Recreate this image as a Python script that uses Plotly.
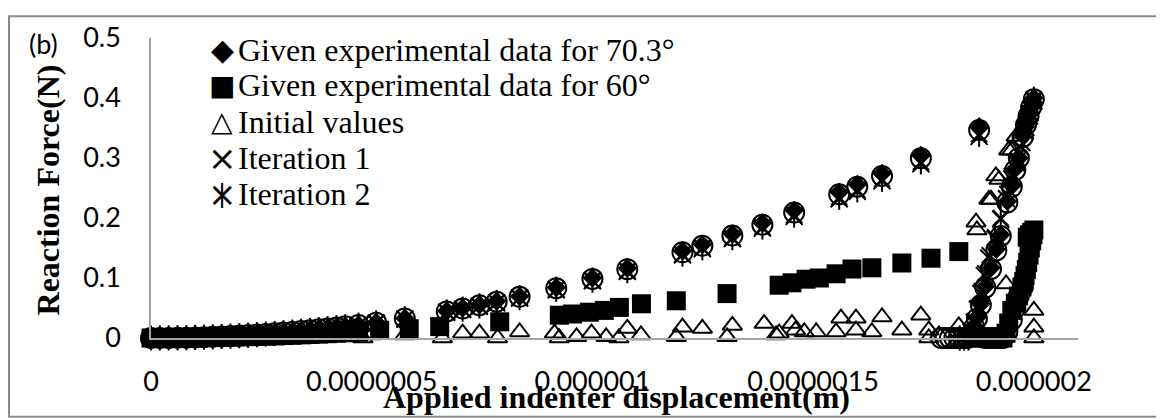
import plotly.graph_objects as go

# ---------------- data (displacement in m, force in N) ----------------
disp_exp_703 = [0.0, 0.02e-6, 0.04e-6, 0.06e-6, 0.08e-6, 0.10e-6, 0.12e-6, 0.14e-6, 0.16e-6, 0.18e-6,
                0.20e-6, 0.22e-6, 0.24e-6, 0.26e-6, 0.28e-6, 0.30e-6, 0.32e-6, 0.34e-6, 0.36e-6, 0.38e-6,
                0.40e-6, 0.42e-6, 0.44e-6, 0.47e-6, 0.51e-6, 0.575e-6, 0.67e-6, 0.706e-6, 0.744e-6, 0.783e-6,
                0.835e-6, 0.918e-6, 1.0e-6, 1.079e-6, 1.204e-6, 1.249e-6, 1.317e-6, 1.385e-6, 1.457e-6, 1.559e-6,
                1.6e-6, 1.656e-6, 1.744e-6, 1.876e-6, 1.975e-6, 1.981e-6, 1.986e-6, 1.991e-6, 1.995e-6, 1.998e-6,
                2.0e-6, 1.996e-6, 1.992e-6, 1.987e-6, 1.982e-6, 1.976e-6, 1.966e-6, 1.958e-6, 1.95e-6, 1.94e-6,
                1.925e-6, 1.915e-6, 1.903e-6, 1.89e-6, 1.88e-6, 1.871e-6, 1.865e-6, 1.86e-6, 1.855e-6]
force_exp_703 = [0.0, 0.0, 0.0002, 0.0004, 0.0006, 0.0010, 0.0014, 0.0020, 0.0026, 0.0032,
                 0.0040, 0.0048, 0.0058, 0.0068, 0.0078, 0.0090, 0.0102, 0.0116, 0.0130, 0.0144,
                 0.0160, 0.0176, 0.0194, 0.0221, 0.0260, 0.0331, 0.0449, 0.0498, 0.0554, 0.0613,
                 0.0697, 0.0843, 0.1000, 0.1164, 0.1450, 0.1560, 0.1734, 0.1918, 0.2123, 0.2431,
                 0.2560, 0.2742, 0.3042, 0.3519, 0.340, 0.352, 0.364, 0.375, 0.385, 0.393,
                 0.400, 0.392, 0.383, 0.373, 0.360, 0.345, 0.300, 0.282, 0.254, 0.228,
                 0.172, 0.148, 0.117, 0.086, 0.057, 0.034, 0.020, 0.008, 0.0]

disp_exp_60 = [0.0, 0.02e-6, 0.04e-6, 0.06e-6, 0.08e-6, 0.10e-6, 0.12e-6, 0.14e-6, 0.16e-6, 0.18e-6,
               0.20e-6, 0.22e-6, 0.24e-6, 0.26e-6, 0.28e-6, 0.30e-6, 0.32e-6, 0.34e-6, 0.36e-6, 0.38e-6,
               0.40e-6, 0.42e-6, 0.44e-6, 0.47e-6, 0.518e-6, 0.585e-6, 0.654e-6, 0.79e-6, 0.925e-6, 0.955e-6,
               0.993e-6, 1.027e-6, 1.061e-6, 1.111e-6, 1.19e-6, 1.305e-6, 1.423e-6, 1.452e-6, 1.484e-6, 1.514e-6,
               1.552e-6, 1.588e-6, 1.633e-6, 1.701e-6, 1.767e-6, 1.83e-6, 1.985e-6, 1.99e-6, 1.995e-6, 2.0e-6,
               1.998e-6, 1.995e-6, 1.992e-6, 1.989e-6, 1.986e-6, 1.983e-6, 1.98e-6, 1.977e-6, 1.973e-6, 1.965e-6,
               1.958e-6, 1.95e-6, 1.943e-6, 1.937e-6, 1.93e-6, 1.915e-6, 1.9e-6, 1.885e-6, 1.87e-6]
force_exp_60 = [0.0, 0.0, 0.0001, 0.0002, 0.0003, 0.0005, 0.0006, 0.0009, 0.0012, 0.0015,
                0.0018, 0.0022, 0.0026, 0.0030, 0.0035, 0.0041, 0.0046, 0.0052, 0.0058, 0.0065,
                0.0072, 0.0079, 0.0087, 0.0099, 0.0130, 0.0155, 0.0190, 0.0270, 0.0380, 0.0400,
                0.0430, 0.0460, 0.0510, 0.0570, 0.0620, 0.0740, 0.0880, 0.0920, 0.0980, 0.1000,
                0.1070, 0.1150, 0.1170, 0.1250, 0.1330, 0.1440, 0.168, 0.172, 0.176, 0.180,
                0.172, 0.162, 0.150, 0.138, 0.126, 0.114, 0.104, 0.094, 0.085, 0.070,
                0.058, 0.046, 0.025, 0.008, 0.0, 0.0, 0.0, 0.0, 0.0]

disp_initial = [0.0, 0.05e-6, 0.10e-6, 0.15e-6, 0.20e-6, 0.25e-6, 0.30e-6, 0.35e-6, 0.40e-6, 0.45e-6,
                0.48e-6, 0.50e-6, 0.575e-6, 0.66e-6, 0.706e-6, 0.744e-6, 0.785e-6, 0.835e-6, 0.914e-6, 0.925e-6,
                0.964e-6, 0.998e-6, 1.031e-6, 1.06e-6, 1.079e-6, 1.11e-6, 1.19e-6, 1.204e-6, 1.249e-6, 1.305e-6,
                1.317e-6, 1.389e-6, 1.416e-6, 1.423e-6, 1.452e-6, 1.46e-6, 1.48e-6, 1.507e-6, 1.552e-6, 1.563e-6,
                1.597e-6, 1.597e-6, 1.633e-6, 1.656e-6, 1.701e-6, 1.744e-6, 1.762e-6, 1.762e-6, 1.785e-6, 1.83e-6,
                1.869e-6, 1.871e-6, 1.898e-6, 1.903e-6, 1.914e-6, 1.921e-6, 1.943e-6, 1.95e-6, 1.96e-6, 1.973e-6,
                1.937e-6, 2.0e-6, 2.0e-6, 2.0e-6]
force_initial = [0.0, 0.0, 0.001, 0.0, 0.002, 0.001, 0.003, 0.001, 0.004, 0.002,
                 0.0, 0.005, 0.005, 0.0, 0.008, 0.008, 0.0, 0.010, 0.008, 0.0,
                 0.002, 0.008, 0.002, 0.0, 0.016, 0.005, 0.002, 0.018, 0.016, 0.002,
                 0.021, 0.024, 0.005, 0.008, 0.024, 0.013, 0.010, 0.010, 0.010, 0.033,
                 0.033, 0.013, 0.010, 0.035, 0.013, 0.038, 0.013, 0.0, 0.005, 0.020,
                 0.193, 0.180, 0.231, 0.231, 0.270, 0.264, 0.313, 0.313, 0.336, 0.341,
                 0.090, 0.046, 0.018, 0.0]

disp_iter1 = [0.0, 0.02e-6, 0.04e-6, 0.06e-6, 0.08e-6, 0.10e-6, 0.12e-6, 0.14e-6, 0.16e-6, 0.18e-6,
              0.20e-6, 0.22e-6, 0.24e-6, 0.26e-6, 0.28e-6, 0.30e-6, 0.32e-6, 0.34e-6, 0.36e-6, 0.38e-6,
              0.40e-6, 0.42e-6, 0.44e-6, 0.47e-6, 0.51e-6, 0.575e-6, 0.67e-6, 0.706e-6, 0.744e-6, 0.783e-6,
              0.835e-6, 0.918e-6, 1.0e-6, 1.079e-6, 1.204e-6, 1.249e-6, 1.317e-6, 1.385e-6, 1.457e-6, 1.559e-6,
              1.6e-6, 1.656e-6, 1.744e-6, 1.876e-6, 2.0e-6, 1.99e-6, 1.98e-6, 1.97e-6, 1.96e-6, 1.95e-6,
              1.938e-6, 1.925e-6, 1.912e-6, 1.898e-6, 1.888e-6, 1.88e-6, 1.872e-6, 1.865e-6, 1.858e-6, 1.85e-6,
              1.84e-6, 1.83e-6, 1.82e-6]
force_iter1 = [0.0, 0.0, 0.0002, 0.0004, 0.0006, 0.0010, 0.0013, 0.0019, 0.0025, 0.0031,
               0.0038, 0.0046, 0.0055, 0.0065, 0.0074, 0.0086, 0.0097, 0.0111, 0.0124, 0.0138,
               0.0153, 0.0168, 0.0185, 0.0211, 0.0248, 0.0316, 0.0429, 0.0476, 0.0529, 0.0585,
               0.0666, 0.0805, 0.0955, 0.1112, 0.1385, 0.1490, 0.1656, 0.1832, 0.2027, 0.2322,
               0.2445, 0.2619, 0.2905, 0.3361, 0.395, 0.370, 0.345, 0.318, 0.292, 0.265,
               0.232, 0.198, 0.165, 0.133, 0.104, 0.074, 0.048, 0.026, 0.010, 0.0,
               0.0, 0.0, 0.0]

disp_iter2 = [0.0, 0.02e-6, 0.04e-6, 0.06e-6, 0.08e-6, 0.10e-6, 0.12e-6, 0.14e-6, 0.16e-6, 0.18e-6,
              0.20e-6, 0.22e-6, 0.24e-6, 0.26e-6, 0.28e-6, 0.30e-6, 0.32e-6, 0.34e-6, 0.36e-6, 0.38e-6,
              0.40e-6, 0.42e-6, 0.44e-6, 0.47e-6, 0.51e-6, 0.575e-6, 0.67e-6, 0.706e-6, 0.744e-6, 0.783e-6,
              0.835e-6, 0.918e-6, 1.0e-6, 1.079e-6, 1.204e-6, 1.249e-6, 1.317e-6, 1.385e-6, 1.457e-6, 1.559e-6,
              1.6e-6, 1.656e-6, 1.744e-6, 1.876e-6, 2.0e-6, 1.992e-6, 1.983e-6, 1.974e-6, 1.962e-6, 1.95e-6,
              1.94e-6, 1.925e-6, 1.912e-6, 1.9e-6, 1.89e-6, 1.882e-6, 1.874e-6, 1.867e-6, 1.86e-6, 1.852e-6,
              1.842e-6, 1.832e-6]
force_iter2 = [0.0, 0.0, 0.0002, 0.0004, 0.0006, 0.0010, 0.0014, 0.0019, 0.0025, 0.0031,
               0.0039, 0.0046, 0.0056, 0.0066, 0.0075, 0.0087, 0.0098, 0.0112, 0.0125, 0.0139,
               0.0154, 0.0170, 0.0187, 0.0213, 0.0251, 0.0319, 0.0433, 0.0481, 0.0535, 0.0592,
               0.0673, 0.0813, 0.0965, 0.1123, 0.1399, 0.1505, 0.1673, 0.1851, 0.2049, 0.2346,
               0.2470, 0.2646, 0.2936, 0.3396, 0.398, 0.375, 0.350, 0.325, 0.295, 0.270,
               0.240, 0.200, 0.168, 0.138, 0.108, 0.078, 0.050, 0.028, 0.012, 0.0,
               0.0, 0.0]

# unlabelled open-circle series seen in the chart
disp_circles = [0.0, 0.02e-6, 0.04e-6, 0.06e-6, 0.08e-6, 0.10e-6, 0.12e-6, 0.14e-6, 0.16e-6, 0.18e-6,
                0.20e-6, 0.22e-6, 0.24e-6, 0.26e-6, 0.28e-6, 0.30e-6, 0.32e-6, 0.34e-6, 0.36e-6, 0.38e-6,
                0.40e-6, 0.42e-6, 0.44e-6, 0.47e-6, 0.51e-6, 0.575e-6, 0.67e-6, 0.706e-6, 0.744e-6, 0.783e-6,
                0.835e-6, 0.918e-6, 1.0e-6, 1.079e-6, 1.204e-6, 1.249e-6, 1.317e-6, 1.385e-6, 1.457e-6, 1.559e-6,
                1.6e-6, 1.656e-6, 1.744e-6, 1.876e-6, 2.0e-6, 1.994e-6, 1.988e-6, 1.982e-6, 1.975e-6, 1.966e-6,
                1.958e-6, 1.95e-6, 1.94e-6, 1.925e-6, 1.915e-6, 1.903e-6, 1.89e-6, 1.88e-6, 1.871e-6, 1.865e-6,
                1.86e-6, 1.85e-6, 1.84e-6, 1.83e-6, 1.82e-6, 1.81e-6, 1.80e-6, 1.79e-6, 1.975e-6, 1.966e-6,
                1.958e-6, 1.95e-6, 1.94e-6, 1.93e-6, 1.92e-6, 1.91e-6, 1.9e-6, 1.89e-6]
force_circles = [0.0, 0.0, 0.0002, 0.0004, 0.0006, 0.0010, 0.0014, 0.0020, 0.0026, 0.0032,
                 0.0040, 0.0048, 0.0058, 0.0068, 0.0078, 0.0090, 0.0102, 0.0116, 0.0130, 0.0144,
                 0.0160, 0.0176, 0.0194, 0.0218, 0.0256, 0.0326, 0.0443, 0.0491, 0.0546, 0.0604,
                 0.0687, 0.0830, 0.0985, 0.1147, 0.1428, 0.1537, 0.1708, 0.1889, 0.2091, 0.2395,
                 0.2522, 0.2701, 0.2996, 0.3466, 0.398, 0.385, 0.370, 0.355, 0.335, 0.300,
                 0.280, 0.252, 0.226, 0.170, 0.146, 0.115, 0.084, 0.055, 0.032, 0.018,
                 0.006, 0.0, 0.0, 0.0, 0.0, 0.0, 0.0, 0.0, 0.085, 0.070,
                 0.050, 0.030, 0.010, 0.0, 0.0, 0.0, 0.0, 0.0]

x_tickvals = [0, 0.5e-6, 1.0e-6, 1.5e-6, 2.0e-6]
x_ticktext = ["0", "0.0000005", "0.000001", "0.0000015", "0.000002"]
y_tickvals = [0, 0.1, 0.2, 0.3, 0.4, 0.5]
y_ticktext = ["0", "0.1", "0.2", "0.3", "0.4", "0.5"]

legend_labels = ["Given experimental data for 70.3°", "Given experimental data for 60°",
                 "Initial values", "Iteration 1", "Iteration 2"]
legend_glyphs = ["◆", "■", "△", "×", "×"]

# ---------------- layout geometry ----------------
# the page body adds an 8 px offset, so the figure is drawn 8 px smaller and
# every position below is given in the reference picture's pixel coordinates
OFF = 8
W, H = 1164 - OFF, 420 - OFF
PLOT_L, PLOT_R, PLOT_T, PLOT_B = 151, 1078, 33, 338   # plot area in reference pixels
ML, MR = PLOT_L - OFF, W - (PLOT_R - OFF)
MT, MB = PLOT_T - OFF, H - (PLOT_B - OFF)
PW, PH = PLOT_R - PLOT_L, PLOT_B - PLOT_T


def px_x(px):
    return (px - PLOT_L) / PW


def px_y(py):
    return (PLOT_B - py) / PH


SERIF = "Liberation Serif, Times New Roman, serif"
SANS = "Lato, Carlito, Calibri, sans-serif"

fig = go.Figure()
common = dict(mode="markers", cliponaxis=False, hoverinfo="x+y")
fig.add_trace(go.Scatter(x=disp_exp_703, y=force_exp_703, name=legend_labels[0],
                         marker=dict(symbol="diamond", size=15, color="black"), **common))
fig.add_trace(go.Scatter(x=disp_exp_60, y=force_exp_60, name=legend_labels[1],
                         marker=dict(symbol="square", size=19, color="black"), **common))
fig.add_trace(go.Scatter(x=disp_initial, y=force_initial, name=legend_labels[2],
                         marker=dict(symbol="triangle-up-open", size=17, color="black",
                                     line=dict(width=2, color="black")), **common))
fig.add_trace(go.Scatter(x=disp_iter1, y=force_iter1, name=legend_labels[3],
                         marker=dict(symbol="x-thin-open", size=17, color="black",
                                     line=dict(width=2, color="black")), **common))
fig.add_trace(go.Scatter(x=disp_iter2, y=force_iter2, name=legend_labels[4], legendgroup="it2",
                         marker=dict(symbol="x-thin-open", size=16, color="black",
                                     line=dict(width=2, color="black")), **common))
fig.add_trace(go.Scatter(x=disp_iter2, y=force_iter2, name=legend_labels[4], legendgroup="it2",
                         showlegend=False,
                         marker=dict(symbol="line-ns-open", size=18, color="black",
                                     line=dict(width=2, color="black")), **common))
fig.add_trace(go.Scatter(x=disp_circles, y=force_circles, name="", showlegend=False,
                         marker=dict(symbol="circle-open", size=20, color="black",
                                     line=dict(width=2, color="black")), **common))

annotations = []
# legend (drawn as text rows)
row_y = [45, 81, 118, 155, 192]
glyph_sizes = [30, 28, 28, 34, 34]
for lab, gl, gs, ry in zip(legend_labels, legend_glyphs, glyph_sizes, row_y):
    annotations.append(dict(x=px_x(222), y=px_y(ry), xref="paper", yref="paper", text=gl,
                            showarrow=False, xanchor="center", yanchor="middle",
                            font=dict(family="DejaVu Sans", size=gs, color="black")))
    annotations.append(dict(x=px_x(236), y=px_y(ry), xref="paper", yref="paper", text=lab,
                            showarrow=False, xanchor="left", yanchor="middle",
                            font=dict(family=SERIF, size=32, color="black")))
# vertical stroke that turns the last × into the star marker
annotations.append(dict(x=px_x(222), y=px_y(row_y[4]), xref="paper", yref="paper", text="|",
                        showarrow=False, xanchor="center", yanchor="middle",
                        font=dict(family="DejaVu Sans", size=24, color="black")))
# axis titles
annotations.append(dict(x=px_x(616), y=px_y(398), xref="paper", yref="paper",
                        text="<b>Applied indenter displacement(m)</b>", showarrow=False,
                        xanchor="center", yanchor="middle",
                        font=dict(family=SERIF, size=32, color="black")))
annotations.append(dict(x=px_x(48), y=px_y(188), xref="paper", yref="paper",
                        text="<b>Reaction Force(N)</b>", showarrow=False, textangle=-90,
                        xanchor="center", yanchor="middle",
                        font=dict(family=SERIF, size=32, color="black")))
annotations.append(dict(x=px_x(43), y=px_y(39), xref="paper", yref="paper", text="(b)",
                        showarrow=False, xanchor="center", yanchor="middle",
                        font=dict(family=SANS, size=27, color="black")))

shapes = [dict(type="rect", xref="paper", yref="paper",
               x0=px_x(9), x1=px_x(1157), y0=px_y(418), y1=px_y(11),
               line=dict(color="#8a8a8a", width=2), fillcolor="rgba(0,0,0,0)", layer="below")]

fig.update_layout(
    width=W, height=H,
    margin=dict(l=ML, r=MR, t=MT, b=MB, pad=0),
    paper_bgcolor="white", plot_bgcolor="white",
    showlegend=False,
    annotations=annotations, shapes=shapes,
    xaxis=dict(range=[0, 2.1e-6], tickvals=x_tickvals, ticktext=x_ticktext,
               showline=True, linecolor="#a6a6a6", linewidth=1.5, showgrid=False, zeroline=False,
               ticks="outside", ticklen=19, tickcolor="rgba(0,0,0,0)",
               tickfont=dict(family=SANS, size=27, color="black")),
    yaxis=dict(range=[0, 0.5], tickvals=y_tickvals, ticktext=y_ticktext,
               showline=True, linecolor="#a6a6a6", linewidth=1.5, showgrid=False, zeroline=False,
               ticks="outside", ticklen=23, tickcolor="rgba(0,0,0,0)",
               tickfont=dict(family=SANS, size=27, color="black")),
)

fig.write_html("out.html")
